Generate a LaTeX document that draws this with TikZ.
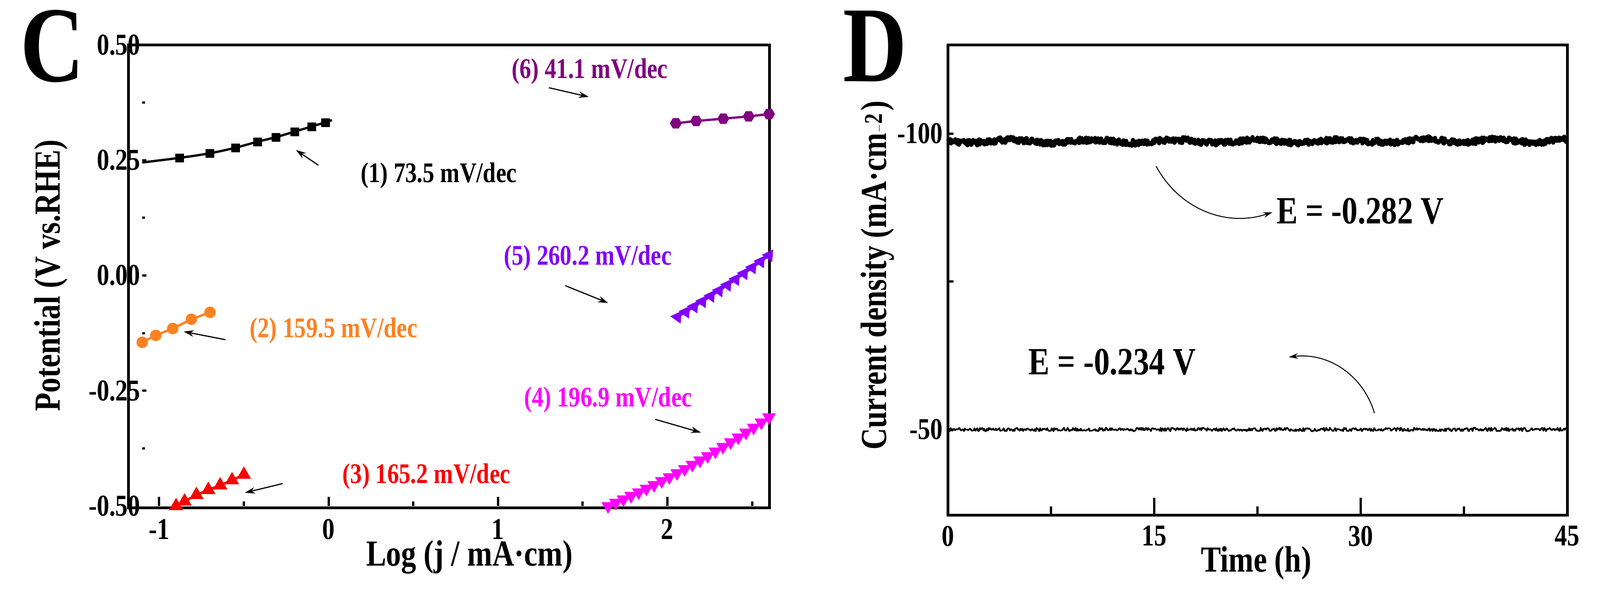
\documentclass[tikz,border=0pt]{standalone}
\usepackage{fontspec}
\setmainfont{Liberation Serif}[FakeStretch=0.82]
\usetikzlibrary{plotmarks,shapes.geometric,arrows.meta}
\definecolor{corange}{RGB}{255,128,32}
\definecolor{cred}{RGB}{250,0,0}
\definecolor{cmag}{RGB}{255,0,255}
\definecolor{cviolet}{RGB}{130,0,250}
\definecolor{cpurple}{RGB}{128,0,128}
\begin{document}
\begin{tikzpicture}[x=2.224pt,y=-2.224pt,font=\bfseries,
  frame/.style={line width=6pt},
  tk/.style={line width=5pt},
  lbl/.style={font=\fontsize{62}{64}\selectfont\bfseries},
  ticklbl/.style={font=\fontsize{66}{68}\selectfont\bfseries},
  axlbl/.style={font=\fontsize{80}{82}\selectfont\bfseries},
  ptr/.style={line width=2.5pt,-{Stealth[length=22pt,width=14pt]}},
  series/.style={line width=5pt}]
\useasboundingbox (0,0) rectangle (1568,593.6);
% ===== Panel C =====
\node[font=\fontsize{235}{235}\selectfont\bfseries,anchor=base west,inner sep=0pt] (labC) at (20,80) {C};
\draw[frame] (126,44) rectangle (754,498);
\begin{scope}[shift={(322,270)},x=369.2pt,y=1005.2pt]
 \foreach \v in {-1,0,1,2} \draw[tk] (\v,-0.5) -- (\v,-0.48);
 \foreach \v in {-0.5,0.5,1.5,2.5} \draw[tk] (\v,-0.5) -- (\v,-0.49);
 \foreach \v in {-1,0,1,2} \node[ticklbl,anchor=north] (xt\v) at (\v,-0.525) {\v};
 \foreach \v in {0.375,0.125,-0.125,-0.375} \draw[tk] (-1.1,\v) -- (-1.085,\v);
 \foreach \v in {0.25,0,-0.25} \draw[tk] (-1.1,\v) -- (-1.075,\v);
 \foreach \v/\t in {0.5/0.50,0.25/0.25,0/0.00,-0.25/-0.25,-0.5/-0.50} \node[ticklbl,anchor=east,inner sep=2pt] (yt\t) at (-1.105,\v) {\t};
 % (1)
 \draw[series,black] plot[smooth] coordinates {(-1.1,0.245)(-0.88,0.255)(-0.7,0.265)(-0.55,0.277)(-0.42,0.29)(-0.31,0.3)(-0.2,0.312)(-0.1,0.323)(-0.02,0.332)(0.02,0.337)};
 \draw[black] plot[only marks,mark=square*,mark size=9pt] coordinates {(-0.88,0.255)(-0.7,0.265)(-0.55,0.277)(-0.42,0.29)(-0.31,0.3)(-0.2,0.312)(-0.1,0.323)(-0.02,0.332)};
 % (2)
 \draw[series,corange,mark=*,mark size=10pt,mark options={fill=corange}] plot coordinates {(-1.1,-0.145)(-1.02,-0.13)(-0.92,-0.115)(-0.81,-0.095)(-0.7,-0.08)};
 % (3)
 \draw[series,cred,mark=triangle*,mark size=13pt,mark options={fill=cred}] plot coordinates {(-0.9,-0.5)(-0.85,-0.49)(-0.78,-0.476)(-0.71,-0.465)(-0.64,-0.455)(-0.57,-0.444)(-0.5,-0.432)};
 % (4)
 \draw[series,cmag,mark=triangle*,mark size=12pt,mark options={fill=cmag,rotate=180}] plot[domain=1.65:2.6,samples=22] (\x,{-0.5+0.155*(\x-1.65)+0.05*(\x-1.65)^2});
 % (5)
 \draw[series,cviolet,mark=triangle*,mark size=11pt,mark options={fill=cviolet,rotate=-35}] plot[domain=2.06:2.6,samples=12] (\x,{-0.09+0.22*(\x-2.06)+0.05*(\x-2.06)^2});
 % (6)
 \draw[series,cpurple] (2.05,0.33) -- (2.17,0.335) -- (2.33,0.34) -- (2.48,0.345) -- (2.6,0.35);
 \foreach \p in {(2.05,0.33),(2.17,0.335),(2.33,0.34),(2.48,0.345),(2.6,0.35)}
   \node[regular polygon,regular polygon sides=6,fill=cpurple,minimum size=26pt,inner sep=0pt] at \p {};
\end{scope}
\node[lbl,text=cpurple] (l6) at (578,70) {(6) 41.1 mV/dec};
\coordinate (a6s) at (538,86); \coordinate (a6e) at (577,95);
\draw[ptr] (a6s) -- (a6e);
\node[lbl] (l1) at (430,172) {(1) 73.5 mV/dec};
\coordinate (a1s) at (312,162); \coordinate (a1e) at (290,147);
\draw[ptr] (a1s) -- (a1e);
\node[lbl,text=cviolet] (l5) at (576,253) {(5) 260.2 mV/dec};
\coordinate (a5s) at (554,280); \coordinate (a5e) at (596,297);
\draw[ptr] (a5s) -- (a5e);
\node[lbl,text=corange] (l2) at (327,324) {(2) 159.5 mV/dec};
\coordinate (a2s) at (221,333); \coordinate (a2e) at (180,325);
\draw[ptr] (a2s) -- (a2e);
\node[lbl,text=cmag] (l4) at (596,392) {(4) 196.9 mV/dec};
\coordinate (a4s) at (642,411); \coordinate (a4e) at (687,424);
\draw[ptr] (a4s) -- (a4e);
\node[lbl,text=cred] (l3) at (418,467) {(3) 165.2 mV/dec};
\coordinate (a3s) at (277,474); \coordinate (a3e) at (240,483);
\draw[ptr] (a3s) -- (a3e);
\node[axlbl] (xlC) at (460,546) {Log (j / mA·cm)};
\node[axlbl,rotate=90] (ylC) at (50,270) {Potential (V vs.RHE)};
% ===== Panel D =====
\node[font=\fontsize{235}{235}\selectfont\bfseries,anchor=base west,inner sep=0pt] (labD) at (826,80) {D};
\draw[frame] (929,44) rectangle (1536,505);
\begin{scope}[shift={(929,131)},x=30.0pt,y=-12.9pt]
 \foreach \v in {0,15,30,45} \draw[tk] (\v,64.5) -- (\v,61.5);
 \foreach \v in {7.5,22.5,37.5} \draw[tk] (\v,64.5) -- (\v,63);
 \foreach \v in {0,15,30,45} \node[ticklbl,anchor=north] (dx\v) at (\v,66) {\v};
 \foreach \v in {0,25,50} \draw[tk] (0,\v) -- (0.4,\v);
 \node[ticklbl,anchor=east,inner sep=2pt] (dy100) at (-0.3,0) {-100};
 \node[ticklbl,anchor=east,inner sep=2pt] (dy50) at (-0.3,50) {-50};
 \draw[line width=9pt,line join=round] plot[domain=0:31,samples=700] (\x,{1.3+0.25*sin(\x*60)+0.5*rand});
 \draw[line width=9pt,line join=round] plot[domain=31.05:45,samples=300] (\x,{1.2+0.3*sin(\x*70)+0.5*rand});
 \draw[line width=3.5pt,line join=round] plot[domain=0:45,samples=700] (\x,{50+0.3*rand});
\end{scope}
\node[font=\fontsize{84}{86}\selectfont\bfseries] (e1) at (1333,207) {E = -0.282 V};
\node[font=\fontsize{84}{86}\selectfont\bfseries] (e2) at (1090,355) {E = -0.234 V};
\coordinate (b1s) at (1133,163); \coordinate (b1e) at (1247,208);
\draw[line width=2pt,-{Stealth[length=20pt,width=12pt]}] (b1s) to[bend right=40] (b1e);
\coordinate (b2s) at (1347,405); \coordinate (b2e) at (1263,350);
\draw[line width=2pt,-{Stealth[length=20pt,width=12pt]}] (b2s) to[bend right=40] (b2e);
\node[axlbl] (xlD) at (1231,552) {Time (h)};
\node[axlbl,rotate=90] (ylD) at (860,270) {Current density (mA·cm$^{\mathbf{-2}}$)};
\end{tikzpicture}
\end{document}
